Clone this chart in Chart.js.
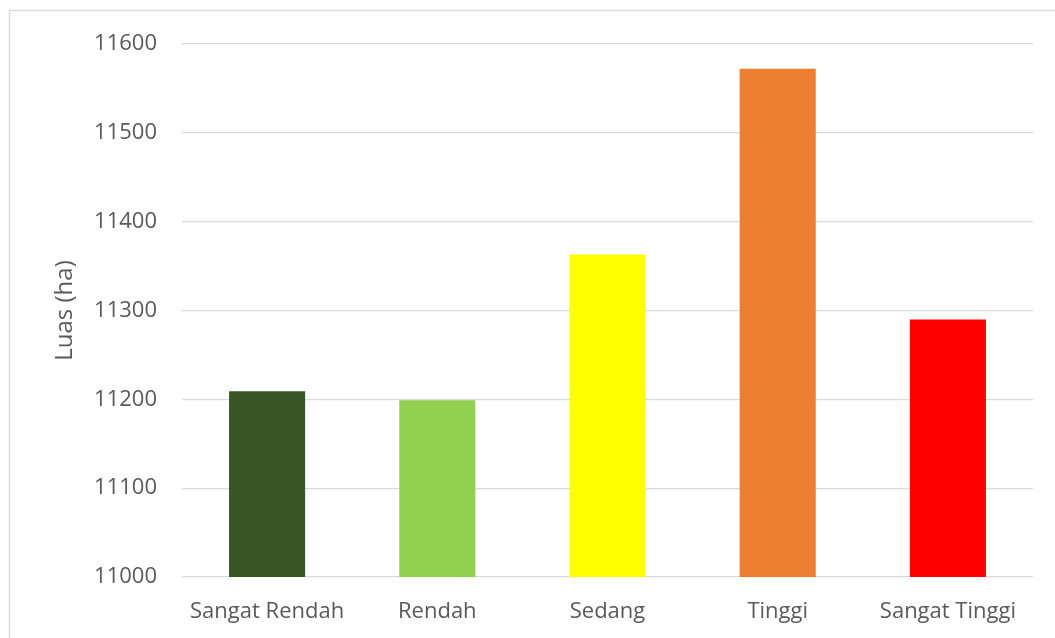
<!DOCTYPE html>
<html>
<head>
<meta charset="utf-8">
<script src="https://cdn.jsdelivr.net/npm/chart.js@4/dist/chart.umd.min.js"></script>
<style>
  html, body { margin: 0; padding: 0; background: #fff; overflow: hidden; }
  #wrap { width: 1055px; height: 638px; position: relative; }
</style>
</head>
<body>
<div id="wrap"><canvas id="chart" width="1055" height="638"></canvas></div>
<script>
// data
const categories = ['Sangat Rendah', 'Rendah', 'Sedang', 'Tinggi', 'Sangat Tinggi'];
const luasValues = [11209, 11199, 11363, 11572, 11290];
const barColors = ['#375623', '#92D050', '#FFFF00', '#ED7D31', '#FF0000'];
const yTicks = [11000, 11100, 11200, 11300, 11400, 11500, 11600];

// thin gray frame like the office chart border
const framePlugin = {
  id: 'frame',
  beforeDraw(chart) {
    const ctx = chart.ctx;
    ctx.save();
    ctx.fillStyle = '#fff';
    ctx.fillRect(0, 0, chart.width, chart.height);
    ctx.strokeStyle = '#d9d9d9';
    ctx.lineWidth = 1.5;
    ctx.strokeRect(9.5, 10.5, chart.width + 20, chart.height + 20);
    ctx.restore();
  }
};

const padLeft = 51;

new Chart(document.getElementById('chart'), {
  type: 'bar',
  data: {
    labels: categories,
    datasets: [{
      data: luasValues,
      backgroundColor: barColors,
      borderWidth: 0,
      barPercentage: 0.447,
      categoryPercentage: 1
    }]
  },
  plugins: [framePlugin],
  options: {
    responsive: false,
    animation: false,
    layout: { padding: { left: padLeft, right: 22, top: 44, bottom: 0 } },
    plugins: { legend: { display: false }, tooltip: { enabled: false } },
    scales: {
      x: {
        grid: { display: false },
        border: { display: false },
        ticks: { color: '#595959', font: { family: 'Open Sans', size: 22 }, padding: 14 },
        afterFit: s => { s.height = 638 - 577; }
      },
      y: {
        min: yTicks[0],
        max: yTicks[yTicks.length - 1],
        afterBuildTicks: s => { s.ticks = yTicks.map(v => ({ value: v })); },
        grid: { color: '#d9d9d9', lineWidth: 1.3, drawTicks: false },
        border: { display: false },
        ticks: {
          color: '#595959', font: { family: 'Open Sans', size: 22 }, padding: 25,
          callback: v => String(v)
        },
        title: {
          display: true, text: 'Luas (ha)', color: '#595959',
          font: { family: 'Open Sans', size: 24 }, padding: { top: 0, bottom: 0 }
        },
        afterFit: s => { s.width = 182 - padLeft; }
      }
    }
  }
});
</script>
</body>
</html>
